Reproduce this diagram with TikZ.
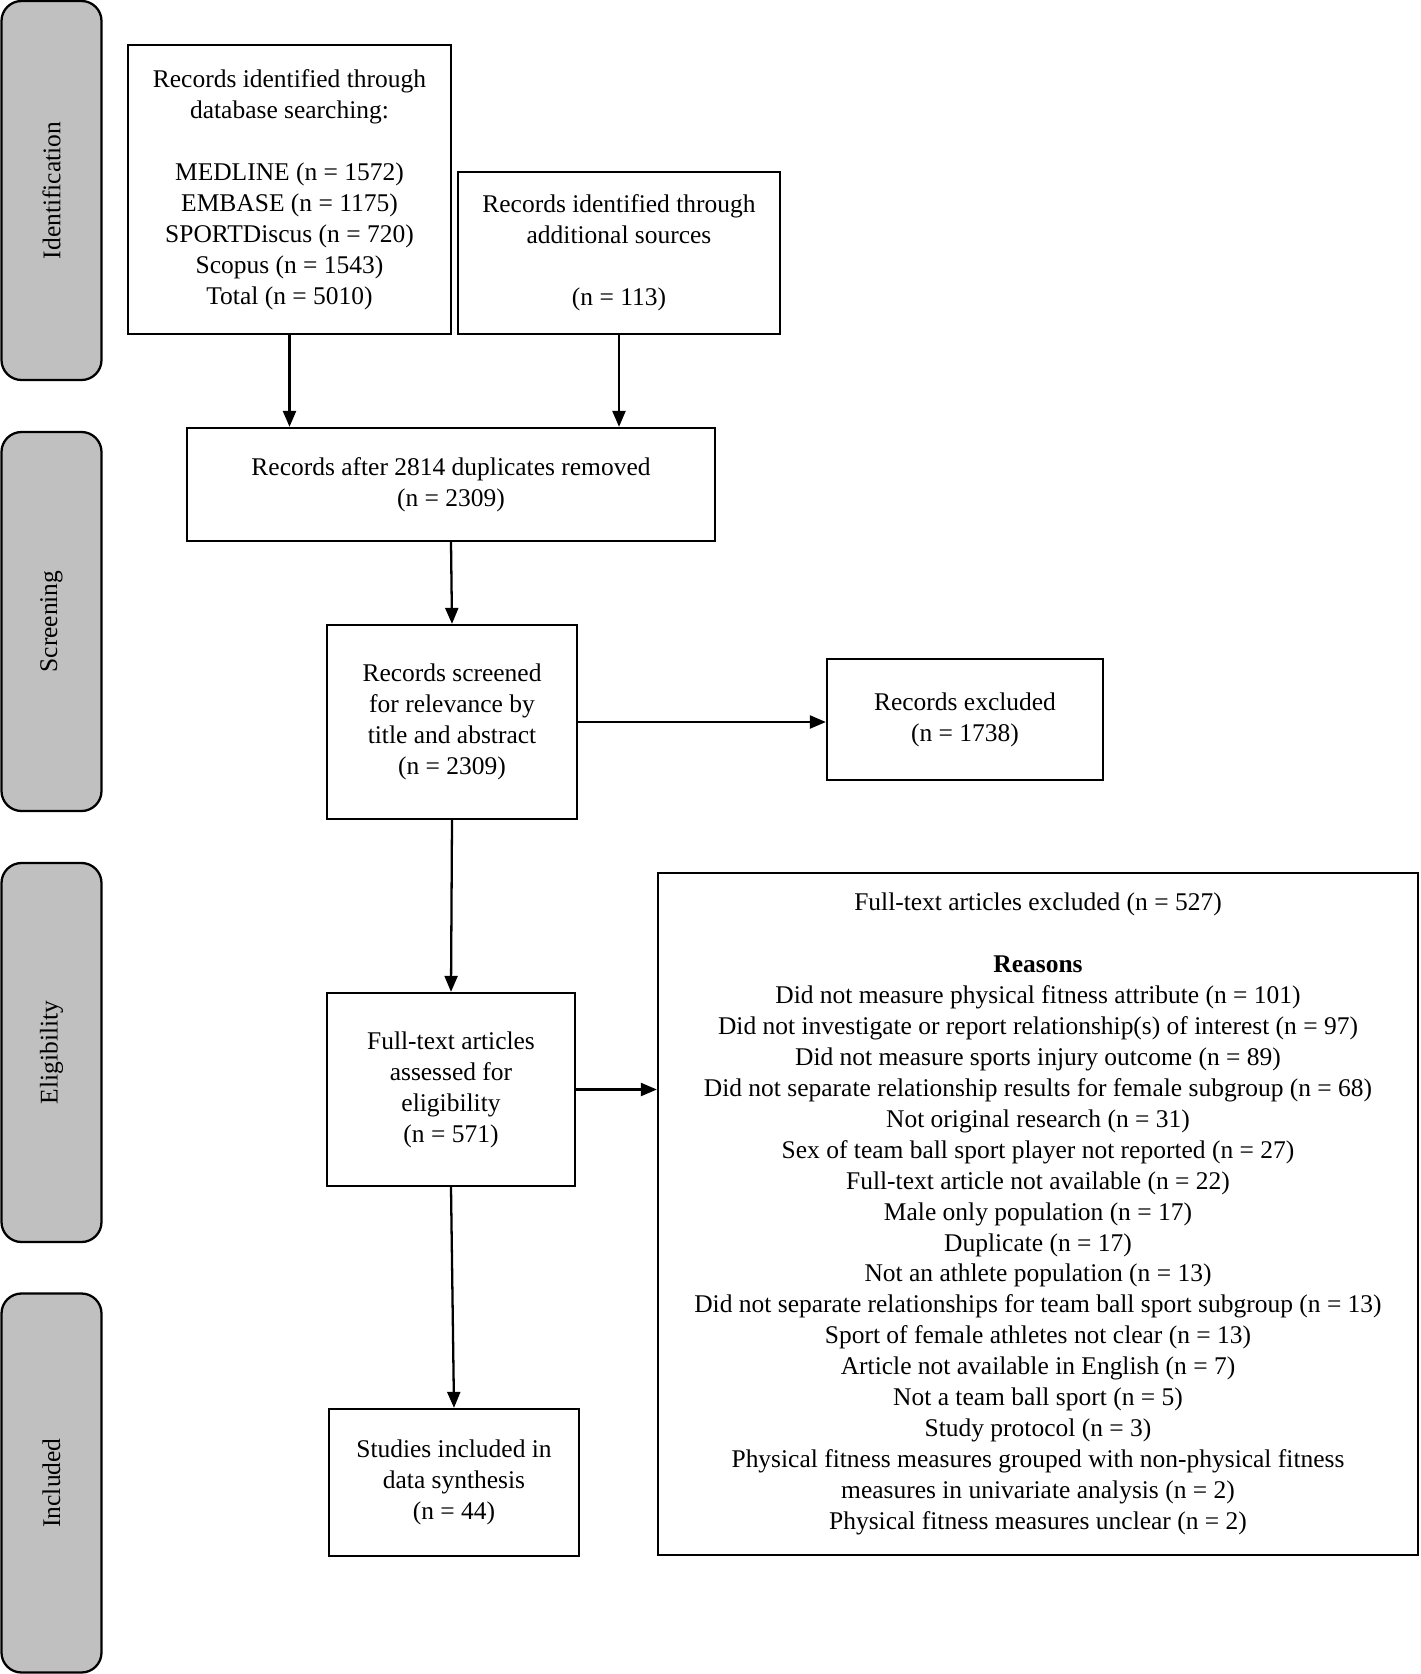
\documentclass[tikz,border=0pt]{standalone}
\usepackage{fontspec}
\setmainfont{Liberation Serif}
\usetikzlibrary{arrows.meta}
\definecolor{phasegray}{HTML}{C0C0C0}

\tikzset{
	phasebox/.style={draw, line width=1.3pt, fill=phasegray, rounded corners=0.4cm, minimum width=7.58cm, minimum height=2.0cm, inner sep=0pt, font=\fontsize{14.5}{17.6}\selectfont},
	recbox/.style={draw, line width=1.3pt, align=center, inner sep=0pt, font=\fontsize{14.5}{17.6}\selectfont},
	flowarrow/.style={-{Triangle[length=0.32cm,width=0.26cm]}, line width=1.3pt}
}

\begin{document}
\begin{tikzpicture}
					\useasboundingbox (0, 0) rectangle (28.4, -33.48);
					% Phases:
					\node[phasebox, rotate=90] (ident) at (1.03, -3.81){Identification};
					\node[phasebox, rotate=90] (screen) at (1.03, -12.43){Screening};
					\node[phasebox, rotate=90] (elig) at (1.03, -21.05){Eligibility};
					\node[phasebox, rotate=90] (incl) at (1.03, -29.66){Included};
					% Boxes:
					\node[recbox, minimum width=6.46cm, minimum height=5.78cm] (db) at (5.79, -3.79){Records identified through\\ database searching:\\[17.6pt] MEDLINE (n = 1572)\\ EMBASE (n = 1175)\\ SPORTDiscus (n = 720)\\ Scopus (n = 1543)\\ Total (n = 5010)};
					\node[recbox, minimum width=6.44cm, minimum height=3.24cm] (extra) at (12.38, -5.06){Records identified through\\ additional sources\\[17.6pt] (n = 113)};
					\node[recbox, minimum width=10.56cm, minimum height=2.26cm] (dedup) at (9.02, -9.69){Records after 2814 duplicates removed\\ (n = 2309)};
					\node[recbox, minimum width=5.0cm, minimum height=3.88cm] (screened) at (9.04, -14.44){Records screened\\ for relevance by\\ title and abstract\\ (n = 2309)};
					\node[recbox, minimum width=5.52cm, minimum height=2.42cm] (excluded) at (19.3, -14.39){Records excluded\\ (n = 1738)};
					\node[recbox, minimum width=4.96cm, minimum height=3.86cm] (assessed) at (9.02, -21.79){Full-text articles\\ assessed for\\ eligibility\\ (n = 571)};
					\node[recbox, minimum width=15.2cm, minimum height=13.64cm] (ftexcl) at (20.76, -24.28){Full-text articles excluded (n = 527)\\[17.6pt] \textbf{Reasons}\\ Did not measure physical fitness attribute (n = 101)\\ Did not investigate or report relationship(s) of interest (n = 97)\\ Did not measure sports injury outcome (n = 89)\\ Did not separate relationship results for female subgroup (n = 68)\\ Not original research (n = 31)\\ Sex of team ball sport player not reported (n = 27)\\ Full-text article not available (n = 22)\\ Male only population (n = 17)\\ Duplicate (n = 17)\\ Not an athlete population (n = 13)\\ Did not separate relationships for team ball sport subgroup (n = 13)\\ Sport of female athletes not clear (n = 13)\\ Article not available in English (n = 7)\\ Not a team ball sport (n = 5)\\ Study protocol (n = 3)\\ Physical fitness measures grouped with non-physical fitness\\ measures in univariate analysis (n = 2)\\ Physical fitness measures unclear (n = 2)};
					\node[recbox, minimum width=5.0cm, minimum height=2.94cm] (synth) at (9.08, -29.65){Studies included in\\ data synthesis\\ (n = 44)};
					% Arrows:
					\draw[flowarrow] (db.south) -- (db.south |- dedup.north);
					\draw[flowarrow] (extra.south) -- (extra.south |- dedup.north);
					\draw[flowarrow] (dedup.south) -- (screened.north);
					\draw[flowarrow] (screened.east) -- (screened.east -| excluded.west);
					\draw[flowarrow] (screened.south) -- (assessed.north);
					\draw[flowarrow] (assessed.east) -- (assessed.east -| ftexcl.west);
					\draw[flowarrow] (assessed.south) -- (synth.north);
				\end{tikzpicture}
\end{document}
